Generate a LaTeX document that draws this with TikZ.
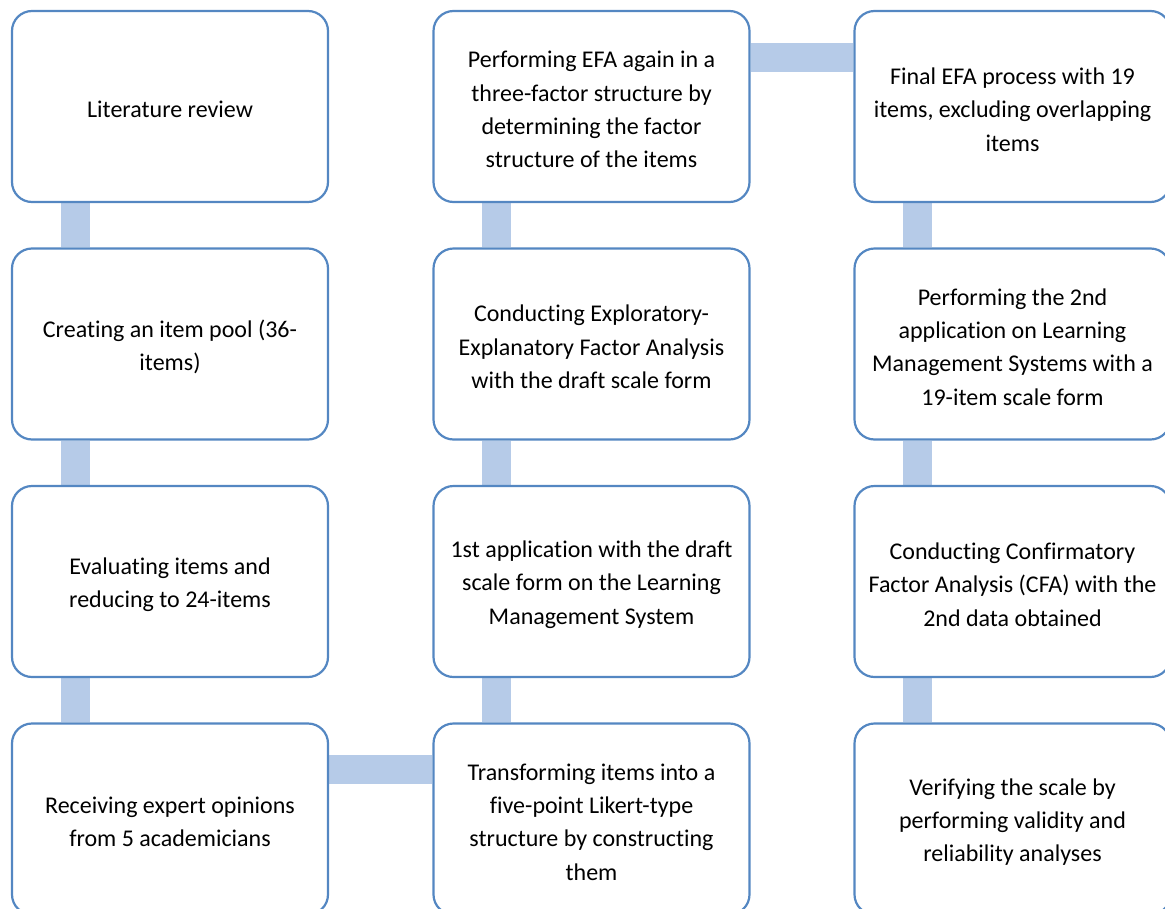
\documentclass[tikz,border=0pt]{standalone}
\usepackage{fontspec}
\setmainfont{Carlito}[Ligatures=CommonOff]
\usetikzlibrary{backgrounds}
\definecolor{boxblue}{RGB}{84,135,194}
\definecolor{connblue}{RGB}{182,203,232}
\tikzset{
  stepbox/.style={draw=boxblue, line width=2.2pt, rounded corners=20pt, fill=white,
    minimum width=316pt, minimum height=191pt, inner sep=0pt},
  steptext/.style={align=center, inner sep=0pt, font=\fontsize{24}{33.3}\selectfont},
  conn/.style={draw=connblue, line width=29pt, line cap=butt}
}
\begin{document}
\begin{tikzpicture}[x=1pt,y=-1pt]
\useasboundingbox (0,0) rectangle (1165,908);
\clip (0,0) rectangle (1165,908);
% boxes
\node[stepbox] (a1) at (170,106.5) {};
\node[stepbox] (a2) at (170,344) {};
\node[stepbox] (a3) at (170,581.5) {};
\node[stepbox] (a4) at (170,819) {};
\node[stepbox] (b1) at (591.5,106.5) {};
\node[stepbox] (b2) at (591.5,344) {};
\node[stepbox] (b3) at (591.5,581.5) {};
\node[stepbox] (b4) at (591.5,819) {};
\node[stepbox] (c1) at (1012.5,106.5) {};
\node[stepbox] (c2) at (1012.5,344) {};
\node[stepbox] (c3) at (1012.5,581.5) {};
\node[stepbox] (c4) at (1012.5,819) {};
% texts
\node[steptext] (a1t) at ([yshift=-3pt]a1.center) {Literature review};
\node[steptext] (a2t) at ([yshift=-3pt]a2.center) {Creating an item pool (36-\\items)};
\node[steptext] (a3t) at ([yshift=-3pt]a3.center) {Evaluating items and\\reducing to 24-items};
\node[steptext] (a4t) at ([yshift=-3pt]a4.center) {Receiving expert opinions\\from 5 academicians};
\node[steptext] (b1t) at ([yshift=-3pt]b1.center) {Performing EFA again in a\\three-factor structure by\\determining the factor\\structure of the items};
\node[steptext] (b2t) at ([yshift=-3pt]b2.center) {Conducting Exploratory-\\Explanatory Factor Analysis\\with the draft scale form};
\node[steptext] (b3t) at ([yshift=-3pt]b3.center) {1st application with the draft\\scale form on the Learning\\Management System};
\node[steptext] (b4t) at ([yshift=-3pt]b4.center) {Transforming items into a\\five-point Likert-type\\structure by constructing\\them};
\node[steptext] (c1t) at ([yshift=-3pt]c1.center) {Final EFA process with 19\\items, excluding overlapping\\items};
\node[steptext] (c2t) at ([yshift=-3pt]c2.center) {Performing the 2nd\\application on Learning\\Management Systems with a\\19-item scale form};
\node[steptext] (c3t) at ([yshift=-3pt]c3.center) {Conducting Confirmatory\\Factor Analysis (CFA) with the\\2nd data obtained};
\node[steptext] (c4t) at ([yshift=-3pt]c4.center) {Verifying the scale by\\performing validity and\\reliability analyses};
% connectors (behind the boxes)
\begin{pgfonlayer}{background}
\foreach \u/\v in {a1/a2,a2/a3,a3/a4,b1/b2,b2/b3,b3/b4,c1/c2,c2/c3,c3/c4}{
  \draw[conn] ([xshift=64.5pt]\u.south west) -- ([xshift=64.5pt]\v.north west);
}
\draw[conn] ([yshift=-47.5pt]a4.north east) -- ([yshift=-47.5pt]b4.north west);
\draw[conn] ([yshift=-47.5pt]b1.north east) -- ([yshift=-47.5pt]c1.north west);
\end{pgfonlayer}
\end{tikzpicture}
\end{document}
